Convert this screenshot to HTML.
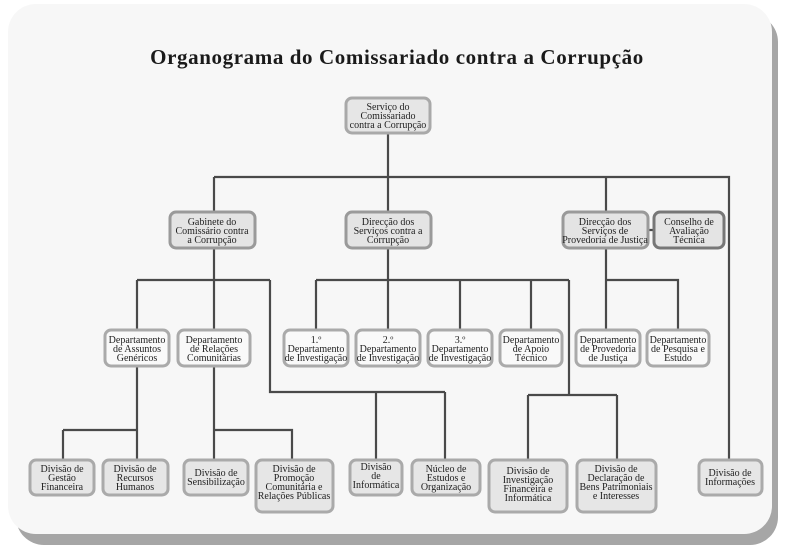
<!DOCTYPE html>
<html><head><meta charset="utf-8"><style>
html,body{margin:0;padding:0;background:#fff;width:794px;height:553px;overflow:hidden}
svg text{font-family:"Liberation Serif",serif;font-size:10px;fill:#1e1e1e}
</style></head><body>
<svg width="794" height="553" viewBox="0 0 794 553" xmlns="http://www.w3.org/2000/svg">
<rect x="16" y="14" width="762" height="531" rx="28" fill="#a6a6a6"/>
<rect x="8" y="4" width="764" height="530" rx="28" fill="#f7f7f7"/>
<text x="397" y="64" text-anchor="middle" style="font-size:21px;font-weight:bold;letter-spacing:0.6px;fill:#1a1a1a">Organograma do Comissariado contra a Corrupção</text>
<g stroke="#4a4a4a" stroke-width="2.2" fill="none">
<path d="M388 133V212M214 177H729V460M214 177V212M606 177V212M648 230H654"/>
<path d="M214 248V280M137 280H270M137 280V330M214 280V330M270 280V392H445M376 392V460M445 392V460"/>
<path d="M388 248V330M316 280H569M316 280V330M460 280V330M531 280V330M569 280V395M528 395H617M528 395V460M617 395V460"/>
<path d="M606 248V330M606 280H678V330"/>
<path d="M137 366V430M63 430H137M63 430V460M137 430V460M214 366V460M214 430H292V460"/>
</g>
<g stroke-width="3">
<rect x="346" y="98" width="84" height="35" rx="6" fill="#e6e6e6" stroke="#a9a9a9"/>
<rect x="170" y="212" width="85" height="36" rx="6" fill="#e4e4e4" stroke="#9a9a9a"/>
<rect x="346" y="212" width="85" height="36" rx="6" fill="#e4e4e4" stroke="#9a9a9a"/>
<rect x="563" y="212" width="85" height="36" rx="6" fill="#e4e4e4" stroke="#9a9a9a"/>
<rect x="654" y="212" width="70" height="36" rx="6" fill="#e4e4e4" stroke="#777"/>
<rect x="105" y="330" width="64" height="36" rx="6" fill="#f9f9f9" stroke="#aaa"/>
<rect x="178" y="330" width="72" height="36" rx="6" fill="#f9f9f9" stroke="#aaa"/>
<rect x="284" y="330" width="64" height="36" rx="6" fill="#f9f9f9" stroke="#aaa"/>
<rect x="356" y="330" width="64" height="36" rx="6" fill="#f9f9f9" stroke="#aaa"/>
<rect x="428" y="330" width="64" height="36" rx="6" fill="#f9f9f9" stroke="#aaa"/>
<rect x="500" y="330" width="62" height="36" rx="6" fill="#f9f9f9" stroke="#aaa"/>
<rect x="576" y="330" width="64" height="36" rx="6" fill="#f9f9f9" stroke="#aaa"/>
<rect x="647" y="330" width="62" height="36" rx="6" fill="#f9f9f9" stroke="#aaa"/>
<rect x="30" y="460" width="64" height="35" rx="6" fill="#e6e6e6" stroke="#aaa"/>
<rect x="103" y="460" width="65" height="35" rx="6" fill="#e6e6e6" stroke="#aaa"/>
<rect x="184" y="460" width="64" height="35" rx="6" fill="#e6e6e6" stroke="#aaa"/>
<rect x="256" y="460" width="77" height="52" rx="6" fill="#e6e6e6" stroke="#aaa"/>
<rect x="350" y="460" width="52" height="35" rx="6" fill="#e6e6e6" stroke="#aaa"/>
<rect x="412" y="460" width="68" height="35" rx="6" fill="#e6e6e6" stroke="#aaa"/>
<rect x="489" y="460" width="78" height="52" rx="6" fill="#e6e6e6" stroke="#aaa"/>
<rect x="577" y="460" width="79" height="52" rx="6" fill="#e6e6e6" stroke="#aaa"/>
<rect x="699" y="460" width="63" height="35" rx="6" fill="#e6e6e6" stroke="#aaa"/>
</g>
<g text-anchor="middle">
<text x="388" y="110"><tspan x="388">Serviço do</tspan><tspan x="388" dy="9">Comissariado</tspan><tspan x="388" dy="9">contra a Corrupção</tspan></text>
<text x="212" y="225"><tspan x="212">Gabinete do</tspan><tspan x="212" dy="9">Comissário contra</tspan><tspan x="212" dy="9">a Corrupção</tspan></text>
<text x="388" y="225"><tspan x="388">Direcção dos</tspan><tspan x="388" dy="9">Serviços contra a</tspan><tspan x="388" dy="9">Corrupção</tspan></text>
<text x="605" y="225"><tspan x="605">Direcção dos</tspan><tspan x="605" dy="9">Serviços de</tspan><tspan x="605" dy="9">Provedoria de Justiça</tspan></text>
<text x="689" y="225"><tspan x="689">Conselho de</tspan><tspan x="689" dy="9">Avaliação</tspan><tspan x="689" dy="9">Técnica</tspan></text>
<text x="137" y="343"><tspan x="137">Departamento</tspan><tspan x="137" dy="9">de Assuntos</tspan><tspan x="137" dy="9">Genéricos</tspan></text>
<text x="214" y="343"><tspan x="214">Departamento</tspan><tspan x="214" dy="9">de Relações</tspan><tspan x="214" dy="9">Comunitárias</tspan></text>
<text x="316" y="343"><tspan x="316">1.º</tspan><tspan x="316" dy="9">Departamento</tspan><tspan x="316" dy="9">de Investigação</tspan></text>
<text x="388" y="343"><tspan x="388">2.º</tspan><tspan x="388" dy="9">Departamento</tspan><tspan x="388" dy="9">de Investigação</tspan></text>
<text x="460" y="343"><tspan x="460">3.º</tspan><tspan x="460" dy="9">Departamento</tspan><tspan x="460" dy="9">de Investigação</tspan></text>
<text x="531" y="343"><tspan x="531">Departamento</tspan><tspan x="531" dy="9">de Apoio</tspan><tspan x="531" dy="9">Técnico</tspan></text>
<text x="608" y="343"><tspan x="608">Departamento</tspan><tspan x="608" dy="9">de Provedoria</tspan><tspan x="608" dy="9">de Justiça</tspan></text>
<text x="678" y="343"><tspan x="678">Departamento</tspan><tspan x="678" dy="9">de Pesquisa e</tspan><tspan x="678" dy="9">Estudo</tspan></text>
<text x="62" y="472"><tspan x="62">Divisão de</tspan><tspan x="62" dy="9">Gestão</tspan><tspan x="62" dy="9">Financeira</tspan></text>
<text x="135" y="472"><tspan x="135">Divisão de</tspan><tspan x="135" dy="9">Recursos</tspan><tspan x="135" dy="9">Humanos</tspan></text>
<text x="216" y="476"><tspan x="216">Divisão de</tspan><tspan x="216" dy="9">Sensibilização</tspan></text>
<text x="294" y="472"><tspan x="294">Divisão de</tspan><tspan x="294" dy="9">Promoção</tspan><tspan x="294" dy="9">Comunitária e</tspan><tspan x="294" dy="9">Relações Públicas</tspan></text>
<text x="376" y="470"><tspan x="376">Divisão</tspan><tspan x="376" dy="9">de</tspan><tspan x="376" dy="9">Informática</tspan></text>
<text x="446" y="472"><tspan x="446">Núcleo de</tspan><tspan x="446" dy="9">Estudos e</tspan><tspan x="446" dy="9">Organização</tspan></text>
<text x="528" y="474"><tspan x="528">Divisão de</tspan><tspan x="528" dy="9">Investigação</tspan><tspan x="528" dy="9">Financeira e</tspan><tspan x="528" dy="9">Informática</tspan></text>
<text x="616" y="472"><tspan x="616">Divisão de</tspan><tspan x="616" dy="9">Declaração de</tspan><tspan x="616" dy="9">Bens Patrimoniais</tspan><tspan x="616" dy="9">e Interesses</tspan></text>
<text x="730" y="476"><tspan x="730">Divisão de</tspan><tspan x="730" dy="9">Informações</tspan></text>
</g>
</svg>
</body></html>
